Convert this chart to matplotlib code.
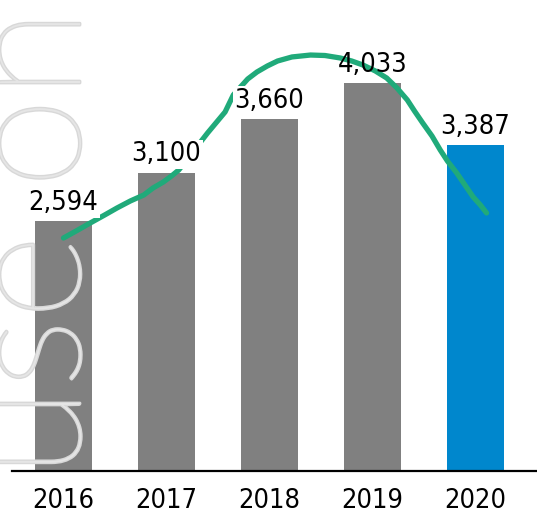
import matplotlib
matplotlib.use("Agg")
import matplotlib.pyplot as plt
import matplotlib.patheffects as pe
from matplotlib.transforms import IdentityTransform

# values
years = ["2016", "2017", "2018", "2019", "2020"]
values = [2594, 3100, 3660, 4033, 3387]
bar_colors = ["#808080", "#808080", "#808080", "#808080", "#0087cd"]
label_masked = [True, True, True, False, True]

# decorative trend curve, traced points (x in bar index units, y in value units)
curve_x = [0.00, 0.14, 0.26, 0.40, 0.52, 0.65, 0.78, 0.87, 0.97, 1.05, 1.12,
           1.40, 1.57, 1.65, 1.72, 1.79, 1.88, 1.98, 2.08, 2.22, 2.40, 2.54,
           2.69, 2.80, 2.91, 3.03, 3.14, 3.24, 3.34, 3.41, 3.49, 3.58, 3.66,
           3.73, 3.82, 3.90, 3.98, 4.05, 4.11]
curve_y = [2422, 2505, 2578, 2661, 2734, 2807, 2869, 2942, 3004, 3067, 3129,
           3514, 3732, 3909, 3992, 4075, 4148, 4210, 4262, 4304, 4324, 4319,
           4293, 4262, 4220, 4158, 4085, 3981, 3857, 3742, 3617, 3482, 3337,
           3222, 3098, 2973, 2848, 2765, 2682]

W, H = 537, 511
fig = plt.figure(figsize=(W / 100, H / 100), dpi=100)
ax = fig.add_axes([12 / W, (H - 471) / H, 1 - 12 / W, 471 / H])

font = dict(family=["DejaVu Sans"], stretch="condensed")

x = range(len(years))
ax.bar(x, values, width=0.555, color=bar_colors, zorder=2)

for i, v in enumerate(values):
    box = dict(boxstyle="square,pad=0.05", fc="white", ec="none") if label_masked[i] else None
    ax.text(i, v + 55, f"{v:,}", ha="center", va="bottom", fontsize=19.5,
            color="black", zorder=5, bbox=box, **font)

ax.plot(curve_x, curve_y, color="#20aa7a", lw=3.8, solid_capstyle="round",
        solid_joinstyle="round", zorder=4)

# watermark, rotated outline text
wm = ax.text(80, H - 477, "use only", transform=IdentityTransform(),
             rotation=90, rotation_mode="anchor", ha="left", va="baseline",
             fontsize=118, color=(1, 1, 1, 0.35), zorder=3, clip_on=False,
             family=["Lato", "DejaVu Sans"], weight="light")
wm.set_path_effects([pe.Stroke(linewidth=2, foreground="#d8d8d8"), pe.Normal()])

ax.set_xlim(-0.5, 4.6)
ax.set_ylim(0, 4896)
ax.set_xticks(list(x))
ax.set_xticklabels(years, fontsize=19.5, **font)
ax.tick_params(axis="x", length=0, pad=12)
ax.set_yticks([])
for s in ["top", "right", "left"]:
    ax.spines[s].set_visible(False)
ax.spines["bottom"].set_linewidth(1.6)
ax.spines["bottom"].set_color("black")
ax.patch.set_alpha(0)

fig.savefig("out.png", dpi=100)
